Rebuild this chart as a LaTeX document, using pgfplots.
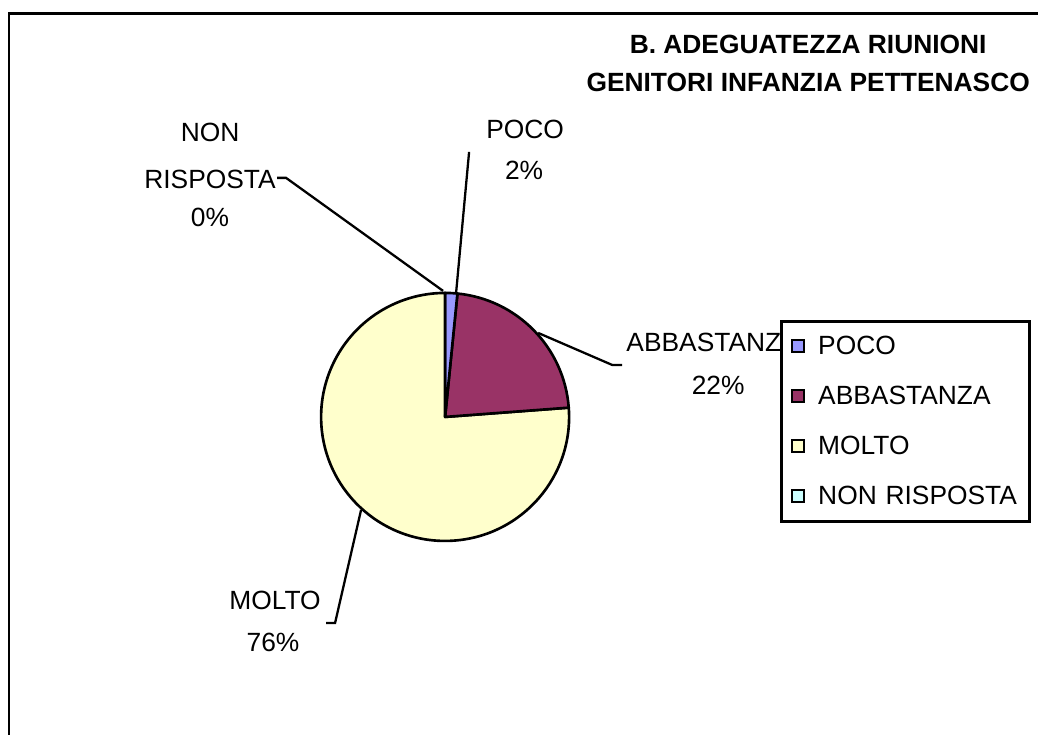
\documentclass[border=0pt]{standalone}
\usepackage{pgfplots}
\usepackage{pgfplotstable}
\pgfplotsset{compat=1.18}
\usepackage{fontspec}
\setmainfont{Liberation Sans}
\definecolor{cpoco}{HTML}{9999FF}
\definecolor{cabb}{HTML}{993366}
\definecolor{cmolto}{HTML}{FFFFCC}
\definecolor{cnon}{HTML}{CCFFFF}
\pgfplotstableread{
label value
POCO 1
ABBASTANZA 14
MOLTO 48
NONRISPOSTA 0
}\piedata
\newcommand\lab{\fontsize{15}{18}\selectfont}
\begin{document}
\begin{tikzpicture}
\pgfplotstablegetelem{0}{value}\of\piedata \pgfmathsetmacro\vA{\pgfplotsretval}
\pgfplotstablegetelem{1}{value}\of\piedata \pgfmathsetmacro\vB{\pgfplotsretval}
\pgfplotstablegetelem{2}{value}\of\piedata \pgfmathsetmacro\vC{\pgfplotsretval}
\pgfplotstablegetelem{3}{value}\of\piedata \pgfmathsetmacro\vD{\pgfplotsretval}
\pgfmathsetmacro\tot{\vA+\vB+\vC+\vD}
\pgfmathsetmacro\aA{90}
\pgfmathsetmacro\aB{\aA-360*(\vA/\tot)}
\pgfmathsetmacro\aC{\aB-360*(\vB/\tot)}
\pgfmathsetmacro\aD{\aC-360*(\vC/\tot)}
\pgfmathsetmacro\aE{\aD-360*(\vD/\tot)}
\begin{axis}[
  at={(0,0)}, anchor=south west,
  x=0.02cm, y=0.02cm,
  xmin=0, xmax=1038, ymin=0, ymax=735,
  hide axis, clip=false,
  legend style={
    at={(780/1038,415/735)}, anchor=north west,
    draw=black, line width=1.5pt, fill=white,
    inner xsep=0.2cm, inner ysep=0pt,
    row sep=0pt, column sep=0.26cm,
    nodes={font=\lab, minimum height=1cm, inner xsep=0pt, inner ysep=0pt, text width=4.02cm, anchor=west},
  },
  legend cell align=left,
]
% pie slices (clockwise from 12 o'clock)
\filldraw[fill=cmolto, draw=black, line width=1.5pt, line join=round]
  (axis cs:445,318) -- ++(\aC:2.48cm) arc[start angle=\aC, end angle=\aD, radius=2.48cm] -- cycle;
\filldraw[fill=cabb, draw=black, line width=1.5pt, line join=round]
  (axis cs:445,318) -- ++(\aB:2.48cm) arc[start angle=\aB, end angle=\aC, radius=2.48cm] -- cycle;
\filldraw[fill=cpoco, draw=black, line width=1.5pt, line join=round]
  (axis cs:445,318) -- ++(\aA:2.48cm) arc[start angle=\aA, end angle=\aB, radius=2.48cm] -- cycle;
\filldraw[fill=cnon, draw=black, line width=1.5pt, line join=round]
  (axis cs:445,318) -- ++(\aD:2.48cm) arc[start angle=\aD, end angle=\aE, radius=2.48cm] -- cycle;
% leader lines
\draw[line width=1.3pt] (axis cs:469,583) -- (axis cs:456,442);
\draw[line width=1.3pt] (axis cs:277,557) -- (axis cs:286,557) -- (axis cs:443,444);
\draw[line width=1.3pt] (axis cs:538,402) -- (axis cs:612,370) -- (axis cs:622,370);
\draw[line width=1.3pt] (axis cs:326,112) -- (axis cs:335,112) -- (axis cs:361,225);
% data labels
\node[font=\lab] at (axis cs:525,605) {POCO};
\node[font=\lab] at (axis cs:524,565) {2\%};
\node[font=\lab] at (axis cs:210,602) {NON};
\node[font=\lab] at (axis cs:210,555) {RISPOSTA};
\node[font=\lab] at (axis cs:210,517) {0\%};
\node[font=\lab, anchor=west, inner xsep=0pt] at (axis cs:626,392) {ABBASTANZA};
\node[font=\lab] at (axis cs:718,350) {22\%};
\node[font=\lab] at (axis cs:275,135) {MOLTO};
\node[font=\lab] at (axis cs:273,93) {76\%};
% title
\node[font=\lab\bfseries] at (axis cs:808,690) {B. ADEGUATEZZA RIUNIONI};
\node[font=\lab\bfseries] at (axis cs:808,652) {GENITORI INFANZIA PETTENASCO};
% chart border
\draw[line width=1.6pt] (axis cs:9,-30) -- (axis cs:9,721) -- (axis cs:1070,721);
% legend
\addlegendimage{legend image code/.code={\draw[fill=cpoco,draw=black,line width=1pt] (0,-0.12cm) rectangle (0.24cm,0.12cm);}}
\addlegendentry{POCO}
\addlegendimage{legend image code/.code={\draw[fill=cabb,draw=black,line width=1pt] (0,-0.12cm) rectangle (0.24cm,0.12cm);}}
\addlegendentry{ABBASTANZA}
\addlegendimage{legend image code/.code={\draw[fill=cmolto,draw=black,line width=1pt] (0,-0.12cm) rectangle (0.24cm,0.12cm);}}
\addlegendentry{MOLTO}
\addlegendimage{legend image code/.code={\draw[fill=cnon,draw=black,line width=1pt] (0,-0.12cm) rectangle (0.24cm,0.12cm);}}
\addlegendentry{NON RISPOSTA}
\end{axis}
\pgfresetboundingbox
\useasboundingbox (0,0) rectangle (20.76cm,14.7cm);
\end{tikzpicture}
\end{document}
